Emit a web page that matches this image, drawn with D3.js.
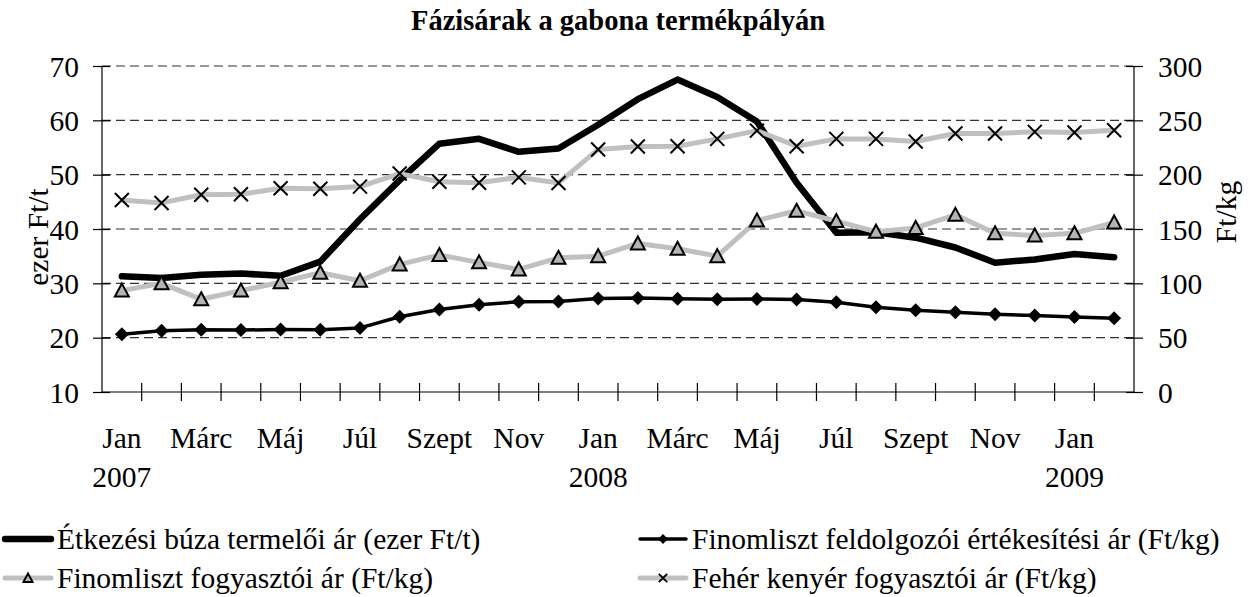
<!DOCTYPE html>
<html><head><meta charset="utf-8">
<script src="https://cdn.jsdelivr.net/npm/d3@7"></script>
<style>
html,body{margin:0;padding:0;background:#fff;}
svg text{font-family:"Liberation Serif","Times New Roman",serif;fill:#000;}
</style></head>
<body><svg id="c" width="1251" height="597"></svg>
<script>
const categories = ["2007 Jan","2007 Febr","2007 Márc","2007 Ápr","2007 Máj","2007 Jún","2007 Júl","2007 Aug","2007 Szept","2007 Okt","2007 Nov","2007 Dec",
  "2008 Jan","2008 Febr","2008 Márc","2008 Ápr","2008 Máj","2008 Jún","2008 Júl","2008 Aug","2008 Szept","2008 Okt","2008 Nov","2008 Dec",
  "2009 Jan","2009 Febr"];
const monthLabels = ["Jan","","Márc","","Máj","","Júl","","Szept","","Nov","","Jan","","Márc","","Máj","","Júl","","Szept","","Nov","","Jan",""];
const yearLabels = ["2007","","","","","","","","","","","","2008","","","","","","","","","","","","2009",""];
const leftTicks = [10,20,30,40,50,60,70];
const rightTicks = [0,50,100,150,200,250,300];

const wheat = [31.3,31.0,31.6,31.8,31.4,34.0,41.8,49.0,55.7,56.6,54.2,54.8,59.2,63.9,67.5,64.3,59.8,48.5,39.3,39.4,38.4,36.6,33.8,34.4,35.4,34.8];
const flourProc = [53.2,56.3,57.2,57.0,57.5,57.3,59.0,69.2,76.0,80.3,83.0,83.3,86.0,86.5,85.8,85.4,85.6,85.2,82.5,78.0,75.2,73.5,71.5,70.5,69.0,67.8];
const flourCons = [93.3,100.0,85.3,93.3,101.0,109.8,102.4,117.4,126.0,119.3,112.8,123.5,125.0,136.7,131.8,125.0,157.8,166.8,157.3,147.5,151.0,163.0,146.0,144.0,146.0,156.0];
const bread = [176.7,174.0,181.5,182.0,187.5,187.0,189.0,201.0,193.5,192.5,197.5,192.4,223.2,225.9,226.2,232.9,240.5,226.2,232.9,232.9,230.5,237.9,237.9,239.4,238.8,240.9];

const title = "Fázisárak a gabona termékpályán";
const leftTitle = "ezer Ft/t";
const rightTitle = "Ft/kg";
const legendNames = ["Étkezési búza termelői ár (ezer Ft/t)","Finomliszt feldolgozói értékesítési ár (Ft/kg)","Finomliszt fogyasztói ár (Ft/kg)","Fehér kenyér fogyasztói ár (Ft/kg)"];

const FF = '"Liberation Serif","Times New Roman",serif';
const FS = 29.5;
const svg = d3.select("#c");
const M = {left:102, right:1134, top:66, bottom:392};
const x = d3.scaleBand().domain(categories).range([M.left, M.right]).padding(0);
const yL = d3.scaleLinear().domain([10,70]).range([M.bottom, M.top]);
const yR = d3.scaleLinear().domain([0,300]).range([M.bottom, M.top]);
const cx = (d,i) => x(categories[i]) + x.bandwidth()/2;

// title
svg.append("text").attr("x",(M.left+M.right)/2).attr("y",30).attr("text-anchor","middle")
  .attr("font-weight","bold").attr("font-size",28.5).text(title);

// gridlines
svg.append("g").selectAll("line").data(leftTicks.filter(d=>d>10)).join("line")
  .attr("x1",M.left).attr("x2",M.right).attr("y1",d=>yL(d)).attr("y2",d=>yL(d))
  .attr("stroke","#333").attr("stroke-width",1.1).attr("stroke-dasharray","9,5");

// left axis
const gL = svg.append("g").attr("transform",`translate(${M.left},0)`)
  .call(d3.axisLeft(yL).tickValues(leftTicks).tickSize(9).tickPadding(14));
gL.selectAll(".tick line").attr("x2",8).attr("x1",-9);
// right axis
const gR = svg.append("g").attr("transform",`translate(${M.right},0)`)
  .call(d3.axisRight(yR).tickValues(rightTicks).tickSize(9).tickPadding(15));
gR.selectAll(".tick line").attr("x1",-8).attr("x2",9);
[gL,gR].forEach(g=>{
  g.attr("font-family",FF).attr("font-size",FS);
  g.select(".domain").attr("stroke","#000").attr("stroke-width",1.2).attr("d",`M0,${M.top}V${M.bottom}`);
  g.selectAll(".tick line").attr("stroke","#000").attr("stroke-width",1.2);
  g.selectAll(".tick text").attr("font-size",FS).attr("font-family",FF).attr("dy","0.34em");
});

// x axis with ticks at category boundaries
const gX = svg.append("g").attr("transform",`translate(0,${M.bottom})`);
gX.append("line").attr("x1",M.left).attr("x2",M.right).attr("y1",0).attr("y2",0).attr("stroke","#000").attr("stroke-width",1.2);
gX.selectAll("line.tk").data(categories.slice(1)).join("line").attr("class","tk")
  .attr("x1",d=>x(d)).attr("x2",d=>x(d)).attr("y1",-9).attr("y2",9).attr("stroke","#000").attr("stroke-width",1.2);
gX.selectAll("text.m").data(categories).join("text").attr("class","m")
  .attr("x",(d,i)=>cx(d,i)).attr("y",56).attr("text-anchor","middle").attr("font-size",FS)
  .text((d,i)=>monthLabels[i]);
gX.selectAll("text.yr").data(categories).join("text").attr("class","yr")
  .attr("x",(d,i)=>cx(d,i)).attr("y",95).attr("text-anchor","middle").attr("font-size",FS)
  .text((d,i)=>yearLabels[i]);

// axis titles
svg.append("text").attr("transform",`translate(48,${(M.top+M.bottom)/2+8}) rotate(-90)`)
  .attr("text-anchor","middle").attr("font-size",FS).text(leftTitle);
svg.append("text").attr("transform",`translate(1236,212) rotate(-90)`)
  .attr("text-anchor","middle").attr("font-size",FS).text(rightTitle);

// marker paths
const diamond = "M0,-7L7,0L0,7L-7,0Z";
const tri = "M0,-7L7,6L-7,6Z";
const cross = "M-7,-7L7,7M7,-7L-7,7";

const lineL = d3.line().x((d,i)=>cx(d,i)).y(d=>yL(d));
const lineR = d3.line().x((d,i)=>cx(d,i)).y(d=>yR(d));

// series 1: wheat (left)
svg.append("path").datum(wheat).attr("d",lineL).attr("fill","none").attr("stroke","#000")
  .attr("stroke-width",6.5).attr("stroke-linejoin","round").attr("stroke-linecap","round");
// series 2: flour processor (right) diamonds
svg.append("path").datum(flourProc).attr("d",lineR).attr("fill","none").attr("stroke","#000")
  .attr("stroke-width",3.5).attr("stroke-linejoin","round");
svg.append("g").selectAll("path").data(flourProc).join("path")
  .attr("transform",(d,i)=>`translate(${cx(d,i)},${yR(d)})`).attr("d",diamond).attr("fill","#000");
// series 3: flour consumer (right) triangles
svg.append("path").datum(flourCons).attr("d",lineR).attr("fill","none").attr("stroke","#c0c0c0")
  .attr("stroke-width",5).attr("stroke-linejoin","round");
svg.append("g").selectAll("path").data(flourCons).join("path")
  .attr("transform",(d,i)=>`translate(${cx(d,i)},${yR(d)})`).attr("d",tri).attr("fill","#b4b4b4")
  .attr("stroke","#000").attr("stroke-width",2).attr("stroke-linejoin","miter");
// series 4: bread (right) crosses
svg.append("path").datum(bread).attr("d",lineR).attr("fill","none").attr("stroke","#c0c0c0")
  .attr("stroke-width",5).attr("stroke-linejoin","round");
svg.append("g").selectAll("path").data(bread).join("path")
  .attr("transform",(d,i)=>`translate(${cx(d,i)},${yR(d)})`).attr("d",cross).attr("fill","none")
  .attr("stroke","#000").attr("stroke-width",2);

// legend
const leg = [
  {x:5, y:539, name:legendNames[0], color:"#000", w:6.5, marker:null},
  {x:640, y:539, name:legendNames[1], color:"#000", w:3.5, marker:"d"},
  {x:5, y:578, name:legendNames[2], color:"#c0c0c0", w:5, marker:"t"},
  {x:640, y:578, name:legendNames[3], color:"#c0c0c0", w:5, marker:"x"}
];
const gLeg = svg.append("g");
leg.forEach(l=>{
  gLeg.append("line").attr("x1",l.x).attr("x2",l.x+46).attr("y1",l.y).attr("y2",l.y)
    .attr("stroke",l.color).attr("stroke-width",l.w).attr("stroke-linecap","round");
  const mx = l.x+23;
  if(l.marker==="d") gLeg.append("path").attr("transform",`translate(${mx},${l.y}) scale(0.7)`).attr("d",diamond).attr("fill","#000");
  if(l.marker==="t") gLeg.append("path").attr("transform",`translate(${mx},${l.y}) scale(0.65)`).attr("d",tri).attr("fill","#b4b4b4").attr("stroke","#000").attr("stroke-width",3);
  if(l.marker==="x") gLeg.append("path").attr("transform",`translate(${mx},${l.y}) scale(0.6)`).attr("d",cross).attr("fill","none").attr("stroke","#000").attr("stroke-width",3);
  gLeg.append("text").attr("x",l.x+52).attr("y",l.y).attr("dy","0.34em").attr("font-size",FS).text(l.name);
});
</script></body></html>
